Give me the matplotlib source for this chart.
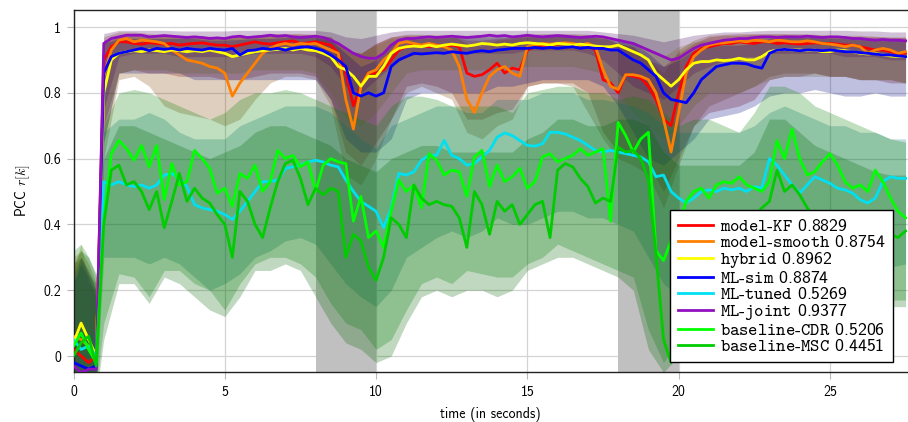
import numpy as np
import matplotlib
matplotlib.use("Agg")
import matplotlib.pyplot as plt
from matplotlib.colors import to_rgb

plt.rcParams['font.family'] = ['cmss10', 'DejaVu Sans']
plt.rcParams['mathtext.fontset'] = 'cm'
plt.rcParams['axes.unicode_minus'] = False

# ---------------- data ----------------
names = ['model-KF', 'model-smooth', 'hybrid', 'ML-sim', 'ML-tuned', 'ML-joint',
         'baseline-CDR', 'baseline-MSC']
scores = [0.8829, 0.8754, 0.8962, 0.8874, 0.5269, 0.9377, 0.5206, 0.4451]
colors = ['#ff0000', '#ff8000', '#ffff00', '#0000ff', '#00e0f0', '#9010c0',
          '#00ff00', '#00cc00']

# line values every 0.25 s (0 ... 27.5 s)
kf = [0.02, 0.0, -0.02, 0.0,
      .90, .94, .955, .955,  .95, .948, .952, .95,  .948, .95, .945, .948,
      .95, .952, .948, .945,  .945, .94, .945, .95,  .955, .95, .948, .952,
      .955, .958, .95, .952,  .955, .95, .945, .92,  .86, .76, .82, .86,
      .86, .87, .90, .93,  .94, .945, .945, .94,  .945, .94, .945, .94,
      .86, .85, .855, .87,  .89, .86, .875, .87,  .93, .94, .945, .945,
      .948, .95, .945, .948,  .945, .93, .84, .83,  .80, .855, .85, .845,
      .82, .78, .72, .70,  .80, .88, .92, .935,  .94, .945, .95, .95,
      .955, .952, .95, .955,  .955, .95, .952, .95,  .948, .95, .952, .95,
      .95, .948, .945, .945,  .94, .935, .93, .93,  .925, .92, .92]
smooth = [0.06, 0.05, 0.03, 0.0,
          .85, .93, .96, .965,  .955, .96, .958, .955,  .95, .93, .915, .90,
          .895, .89, .88, .875,  .86, .79, .83, .86,  .89, .92, .935, .945,
          .95, .945, .95, .948,  .95, .94, .93, .92,  .78, .69, .82, .86,
          .87, .90, .92, .95,  .955, .95, .945, .95,  .945, .94, .93, .88,
          .78, .74, .80, .85,  .87, .88, .86, .85,  .94, .945, .95, .948,
          .95, .952, .95, .945,  .95, .94, .87, .82,  .81, .855, .855, .85,
          .84, .80, .72, .62,  .74, .86, .91, .93,  .945, .95, .952, .955,
          .958, .955, .96, .958,  .955, .96, .958, .955,  .955, .958, .955, .95,
          .948, .945, .94, .945,  .94, .92, .93, .935,  .93, .92, .925]
hybrid = [0.04, 0.10, 0.05, 0.0,
          .80, .90, .92, .925,  .928, .925, .93, .928,  .925, .93, .928, .925,
          .928, .925, .93, .925,  .92, .91, .915, .92,  .925, .928, .93, .932,
          .935, .93, .935, .93,  .928, .92, .91, .88,  .87, .85, .82, .85,
          .85, .88, .92, .935,  .94, .942, .94, .945,  .94, .945, .948, .945,
          .942, .945, .95, .948,  .945, .948, .945, .95,  .952, .95, .948, .945,
          .95, .948, .945, .948,  .945, .942, .94, .94,  .945, .935, .925, .915,
          .90, .86, .84, .82,  .84, .87, .89, .895,  .895, .90, .898, .90,
          .905, .90, .90, .91,  .925, .93, .932, .93,  .93, .928, .93, .925,
          .925, .93, .928, .925,  .92, .918, .92, .915,  .912, .91, .91]
ml_sim = [-0.02, -0.03, -0.04, -0.03,
          .86, .91, .92, .925,  .93, .935, .928, .935,  .932, .935, .93, .935,
          .932, .93, .935, .932,  .93, .935, .915, .928,  .93, .935, .932, .935,
          .93, .935, .938, .94,  .935, .928, .915, .90,  .88, .80, .79, .80,
          .79, .80, .88, .90,  .91, .92, .918, .92,  .922, .92, .925, .922,
          .92, .925, .928, .925,  .93, .932, .935, .935,  .935, .938, .935, .938,
          .935, .938, .94, .935,  .938, .935, .935, .93,  .93, .915, .90, .89,
          .87, .85, .80, .78,  .775, .77, .80, .84,  .86, .88, .885, .89,
          .89, .888, .88, .875,  .92, .93, .932, .93,  .928, .93, .93, .928,
          .93, .928, .925, .925,  .922, .92, .918, .915,  .915, .912, .91]
ml_tuned = [0.05, 0.02, 0.03, 0.0,
            .53, .52, .53, .52,  .515, .52, .51, .52,  .55, .555, .54, .515,
            .46, .45, .445, .44,  .43, .415, .44, .47,  .50, .53, .53, .535,
            .57, .575, .58, .59,  .595, .59, .58, .575,  .535, .50, .47, .455,
            .44, .39, .45, .555,  .55, .56, .595, .61,  .61, .655, .61, .60,
            .58, .585, .605, .625,  .665, .678, .67, .655,  .64, .638, .645, .68,
            .68, .675, .665, .655,  .64, .625, .62, .625,  .62, .615, .61, .605,
            .59, .545, .55, .50,  .48, .465, .48, .50,  .505, .50, .51, .505,
            .51, .50, .515, .51,  .60, .58, .55, .52,  .495, .52, .545, .535,
            .525, .51, .505, .495,  .475, .465, .48, .53,  .545, .54, .54]
ml_joint = [-0.03, -0.05, -0.04, -0.04,
            .95, .965, .97, .975,  .975, .975, .97, .972,  .974, .972, .97, .968,
            .97, .968, .965, .967,  .965, .97, .972, .968,  .97, .972, .975, .972,
            .974, .97, .968, .97,  .972, .968, .96, .95,  .935, .92, .91, .905,
            .905, .92, .945, .96,  .965, .965, .968, .97,  .968, .97, .972, .97,
            .968, .97, .972, .975,  .972, .974, .97, .972,  .975, .972, .97, .972,
            .974, .972, .97, .968,  .97, .972, .97, .965,  .96, .955, .95, .94,
            .93, .92, .91, .90,  .905, .92, .935, .945,  .95, .955, .96, .962,
            .965, .965, .968, .97,  .97, .968, .97, .97,  .97, .972, .97, .968,
            .97, .97, .968, .965,  .965, .962, .96, .962,  .96, .96, .958]
cdr = [0.03, 0.07, 0.02, -0.02,
       .41, .615, .655, .63,  .595, .64, .575, .64,  .475, .585, .52, .53,
       .625, .60, .57, .495,  .51, .455, .555, .54,  .58, .50, .53, .625,
       .60, .61, .575, .59,  .50, .58, .60, .59,  .585, .41, .485, .36,
       .38, .33, .44, .535,  .50, .52, .45, .615,  .595, .55, .565, .56,
       .485, .605, .625, .515,  .58, .53, .545, .57,  .51, .53, .605, .615,
       .59, .60, .61, .63,  .61, .62, .63, .41,  .71, .67, .62, .66,
       .68, .32, .29, .35,  .40, .47, .50, .51,  .48, .52, .53, .525,
       .545, .52, .51, .50,  .53, .655, .60, .69,  .60, .55, .56, .59,
       .615, .58, .53, .51,  .52, .50, .565, .53,  .48, .44, .42]
msc = [0.0, 0.04, 0.06, -0.03,
       .40, .565, .58, .52,  .53, .50, .445, .50,  .39, .47, .555, .47,
       .51, .48, .465, .43,  .40, .30, .50, .47,  .40, .36, .45, .53,
       .585, .595, .54, .46,  .51, .49, .51, .50,  .30, .37, .35, .27,
       .23, .30, .42, .40,  .36, .52, .48, .46,  .47, .46, .455, .42,
       .33, .50, .46, .37,  .47, .44, .46, .40,  .43, .46, .47, .36,
       .565, .585, .575, .54,  .515, .465, .48, .47,  .635, .62, .625, .60,
       .535, .31, .05, -0.02,  .10, .32, .36, .38,  .37, .40, .38, .36,
       .38, .40, .42, .45,  .47, .565, .50, .52,  .49, .45, .42, .40,
       .41, .39, .37, .38,  .36, .38, .37, .36,  .37, .36, .38]

# band edges at 0, .25, .5, .75 s and then every 0.5 s from 1 s to 27.5 s
kf_lo = [-0.08, -0.1, -0.08, -0.1,
         .70, .86, .87, .86, .86, .85, .85, .85, .84, .84,
         .85, .86, .86, .86, .85, .78, .62, .58, .65, .72,
         .82, .83, .82, .80, .72, .72, .74, .75, .82, .83,
         .83, .83, .80, .68, .62, .62, .58, .50, .60, .70,
         .74, .75, .76, .78, .84, .85, .85, .86, .85, .85,
         .84, .84, .83, .83]
kf_hi = [.28, .30, .25, .20,
         .96, .975, .975, .975, .975, .975, .975, .972, .97, .972,
         .975, .975, .978, .978, .975, .97, .93, .92, .95, .97,
         .975, .975, .975, .975, .96, .96, .965, .97, .975, .975,
         .975, .975, .975, .97, .95, .94, .90, .88, .92, .95,
         .97, .975, .975, .978, .978, .978, .975, .975, .975, .972,
         .97, .97, .968, .968]
smooth_lo = [-0.1, -0.06, -0.1, -0.08,
             .60, .84, .85, .82, .76, .74, .73, .72, .70, .72,
             .78, .83, .85, .85, .84, .76, .55, .52, .60, .72,
             .80, .82, .80, .78, .68, .66, .70, .72, .82, .83,
             .83, .82, .74, .66, .60, .58, .55, .45, .58, .70,
             .76, .78, .80, .82, .85, .86, .86, .86, .85, .85,
             .84, .84, .84, .83]
smooth_hi = [.30, .32, .28, .22,
             .97, .985, .985, .98, .975, .975, .97, .97, .965, .97,
             .975, .98, .98, .98, .978, .97, .93, .92, .95, .97,
             .978, .978, .975, .975, .95, .94, .96, .965, .978, .98,
             .98, .98, .978, .97, .95, .94, .90, .86, .93, .96,
             .975, .978, .98, .98, .98, .98, .98, .978, .975, .975,
             .975, .972, .97, .97]
hybrid_lo = [-0.1, -0.08, -0.06, -0.1,
             .65, .86, .87, .87, .87, .86, .86, .86, .86, .86,
             .87, .87, .87, .87, .86, .80, .72, .70, .74, .80,
             .86, .87, .87, .87, .87, .87, .87, .88, .88, .88,
             .88, .88, .87, .86, .80, .74, .70, .66, .70, .76,
             .80, .80, .80, .82, .84, .85, .85, .85, .85, .85,
             .84, .84, .84, .83]
hybrid_hi = [.26, .34, .22, .20,
             .95, .97, .97, .97, .97, .968, .968, .965, .965, .968,
             .97, .97, .972, .972, .97, .96, .93, .92, .945, .965,
             .97, .972, .975, .975, .975, .975, .975, .975, .975, .975,
             .975, .975, .975, .97, .965, .955, .93, .91, .94, .955,
             .96, .962, .965, .968, .97, .97, .97, .97, .968, .968,
             .965, .965, .962, .962]
sim_lo = [-0.1, -0.1, -0.1, -0.1,
          .65, .86, .86, .86, .86, .86, .84, .84, .84, .84,
          .84, .84, .84, .84, .84, .78, .66, .62, .62, .66,
          .78, .80, .80, .80, .80, .80, .82, .82, .83, .84,
          .84, .84, .84, .82, .76, .68, .60, .58, .62, .66,
          .72, .73, .74, .76, .79, .80, .80, .81, .80, .79,
          .79, .80, .79, .79]
sim_hi = [.22, .28, .24, .18,
          .95, .965, .965, .965, .965, .965, .965, .96, .96, .962,
          .965, .965, .968, .97, .968, .96, .92, .88, .90, .95,
          .96, .965, .965, .968, .968, .97, .97, .97, .97, .972,
          .972, .972, .97, .965, .96, .95, .92, .88, .90, .93,
          .94, .945, .945, .95, .965, .968, .968, .968, .965, .965,
          .962, .962, .96, .96]
tuned_lo = [-0.1, -0.08, -0.1, -0.1,
            .30, .30, .30, .28, .30, .28, .24, .20, .22, .25,
            .30, .32, .35, .36, .34, .28, .22, .18, .15, .20,
            .30, .33, .36, .38, .36, .38, .42, .40, .40, .42,
            .44, .44, .42, .42, .40, .38, .30, .22, .18, .22,
            .25, .26, .28, .30, .32, .32, .30, .30, .28, .28,
            .26, .26, .27, .28]
tuned_hi = [.22, .30, .25, .22,
            .68, .72, .72, .74, .72, .68, .66, .66, .66, .70,
            .72, .74, .76, .76, .76, .74, .70, .66, .63, .70,
            .72, .74, .76, .76, .74, .74, .78, .78, .78, .80,
            .80, .80, .78, .78, .77, .76, .74, .70, .68, .68,
            .68, .68, .68, .70, .74, .76, .74, .72, .70, .70,
            .68, .68, .66, .66]
joint_lo = [-0.1, -0.1, -0.1, -0.1,
            .75, .91, .92, .92, .92, .91, .91, .91, .91, .91,
            .92, .92, .92, .92, .91, .88, .82, .80, .84, .88,
            .91, .92, .92, .92, .92, .92, .92, .92, .93, .93,
            .93, .93, .92, .90, .86, .82, .80, .78, .82, .86,
            .88, .90, .91, .91, .92, .92, .92, .92, .92, .91,
            .91, .91, .90, .90]
joint_hi = [.25, .30, .26, .20,
            .98, .99, .99, .99, .99, .988, .988, .988, .988, .99,
            .99, .99, .99, .99, .99, .985, .97, .965, .975, .985,
            .99, .99, .99, .99, .99, .99, .99, .99, .99, .99,
            .99, .99, .99, .985, .98, .975, .965, .955, .965, .975,
            .98, .985, .985, .988, .99, .99, .99, .99, .99, .99,
            .988, .988, .985, .985]
cdr_lo = [-0.1, -0.1, -0.1, -0.1,
          .10, .25, .24, .18, .26, .26, .22, .20, .14, .22,
          .28, .30, .30, .28, .24, .16, .10, .08, .02, .05,
          .14, .22, .24, .22, .26, .25, .24, .24, .28, .30,
          .34, .32, .30, .28, .26, .24, .08, -0.02, .05, .10,
          .12, .14, .15, .16, .18, .18, .17, .16, .16, .17,
          .16, .16, .17, .17]
cdr_hi = [.32, .34, .30, .25,
          .70, .80, .81, .80, .78, .76, .74, .72, .74, .78,
          .80, .80, .81, .80, .78, .76, .74, .72, .70, .76,
          .79, .79, .78, .76, .76, .76, .76, .74, .80, .81,
          .82, .82, .80, .80, .78, .79, .78, .74, .70, .72,
          .72, .70, .68, .74, .82, .82, .80, .76, .74, .72,
          .70, .68, .66, .65]
msc_lo = [-0.12, -0.1, -0.1, -0.12,
          .05, .22, .22, .16, .24, .22, .18, .14, .12, .18,
          .26, .26, .28, .26, .18, .10, .04, .02, -0.02, 0.0,
          .10, .18, .20, .18, .20, .20, .18, .20, .26, .28,
          .30, .30, .28, .26, .24, .20, .02, -0.05, 0.0, .05,
          .08, .10, .12, .14, .16, .16, .15, .14, .14, .15,
          .14, .14, .15, .15]
msc_hi = [.28, .32, .30, .24,
          .60, .70, .70, .68, .66, .64, .62, .60, .62, .64,
          .68, .70, .70, .68, .66, .64, .60, .58, .56, .60,
          .62, .64, .64, .62, .62, .62, .62, .62, .66, .68,
          .72, .72, .70, .70, .72, .72, .70, .62, .58, .58,
          .58, .58, .58, .62, .72, .72, .68, .64, .62, .60,
          .58, .56, .55, .55]

gray_spans = [(8, 10), (18, 20)]
xticks = [0, 5, 10, 15, 20, 25]
yticks = [0, 0.2, 0.4, 0.6, 0.8, 1.0]
yticklabels = ['0', '0.2', '0.4', '0.6', '0.8', '1']

lines = [kf, smooth, hybrid, ml_sim, ml_tuned, ml_joint, cdr, msc]
bands = [(kf_lo, kf_hi), (smooth_lo, smooth_hi), (hybrid_lo, hybrid_hi),
         (sim_lo, sim_hi), (tuned_lo, tuned_hi), (joint_lo, joint_hi),
         (cdr_lo, cdr_hi), (msc_lo, msc_hi)]

t = np.arange(len(kf)) * 0.25
tb = np.concatenate([[0.0, 0.25, 0.5, 0.75], np.arange(1.0, 27.51, 0.5)])

# ---------------- plot ----------------
fig = plt.figure(figsize=(9.08, 4.22), dpi=100)
ax = fig.add_axes([73.5 / 908, 50 / 422, 834.5 / 908, 362 / 422])

ax.set_axisbelow(True)
ax.grid(True, color='#d4d4d4', lw=0.9)
for a, b in gray_spans:
    ax.axvspan(a, b, color='#c0c0c0', lw=0, zorder=0.6)

for (lo, hi), c in zip(bands, colors):
    fc = 0.5 * np.array(to_rgb(c))
    ax.fill_between(tb, lo, hi, color=fc, alpha=0.25, lw=0, zorder=1)

for y, c, n, s in zip(lines, colors, names, scores):
    lab = '-'.join(r'$\mathtt{%s}$' % p for p in n.split('-')) + ' %.4f' % s
    ax.plot(t, y, color=c, lw=2.0, zorder=3, label=lab)

ax.set_xlim(0, 27.58)
ax.set_ylim(-0.0486, 1.0517)
ax.set_xticks(xticks)
ax.set_xticklabels([str(v) for v in xticks])
ax.set_yticks(yticks)
ax.set_yticklabels(yticklabels)
ax.tick_params(direction='out', length=5, color='#b8b8b8', labelsize=10, pad=4)
for side in ['left', 'bottom', 'top']:
    ax.spines[side].set_color('#222222')
    ax.spines[side].set_linewidth(1.0)
ax.spines['right'].set_visible(False)

ax.set_xlabel('time (in seconds)', fontsize=10, labelpad=6)
ax.set_ylabel(r'PCC $r[k]$', fontsize=10, labelpad=8)

leg = ax.legend(loc='lower right', bbox_to_anchor=(0.982, 0.0276), fontsize=12.8,
                frameon=True, fancybox=False, framealpha=1, edgecolor='black',
                handlelength=2.0, borderaxespad=0, labelspacing=0.0,
                handletextpad=0.35, borderpad=0.45)
leg.get_frame().set_linewidth(1.0)
leg.set_zorder(5)

fig.savefig('out.png', dpi=100)
